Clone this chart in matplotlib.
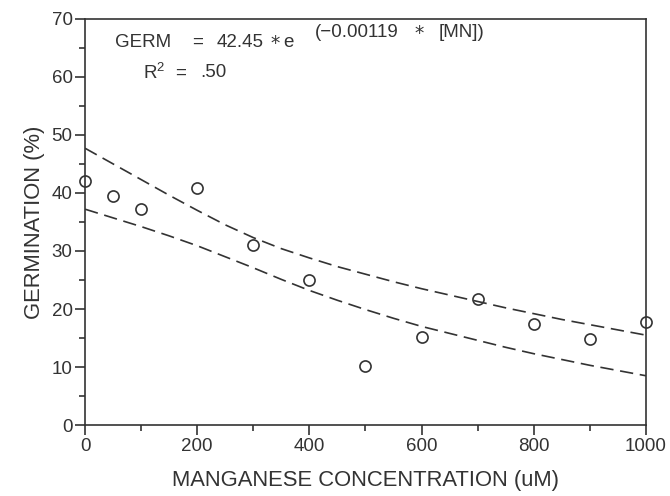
import matplotlib
matplotlib.use('Agg')
import matplotlib.pyplot as plt
from matplotlib.ticker import MultipleLocator

# data
mn_conc = [0, 50, 100, 200, 300, 400, 500, 600, 700, 800, 900, 1000]
germination = [42.0, 39.5, 37.2, 40.9, 31.0, 25.0, 10.1, 15.2, 21.7, 17.5, 14.8, 17.7]

# dashed band, read every 50 uM
band_x = [0, 50, 100, 150, 200, 250, 300, 350, 400, 450, 500,
          550, 600, 650, 700, 750, 800, 850, 900, 950, 1000]
band_upper = [47.7, 45.0, 42.3, 39.6, 37.0, 34.5, 32.3, 30.4, 28.8, 27.3, 26.0,
              24.7, 23.5, 22.4, 21.3, 20.2, 19.2, 18.2, 17.3, 16.4, 15.5]
band_lower = [37.2, 35.7, 34.2, 32.6, 30.9, 29.0, 27.1, 25.1, 23.2, 21.5, 19.9,
              18.4, 17.0, 15.8, 14.6, 13.4, 12.3, 11.3, 10.3, 9.4, 8.5]

plt.rcParams['font.family'] = ['Liberation Sans', 'DejaVu Sans']
INK = '#333333'

fig = plt.figure(figsize=(6.7, 4.96), dpi=100)
ax = fig.add_axes([0.127, 0.143, 0.837, 0.819])

ax.plot(band_x, band_upper, color=INK, lw=1.2, dashes=(8, 4))
ax.plot(band_x, band_lower, color=INK, lw=1.2, dashes=(8, 4))
ax.plot(mn_conc, germination, 'o', ms=8, mfc='none', mec=INK, mew=1.2,
        clip_on=False)

ax.set_xlim(0, 1000)
ax.set_ylim(0, 70)
ax.xaxis.set_major_locator(MultipleLocator(200))
ax.xaxis.set_minor_locator(MultipleLocator(100))
ax.yaxis.set_major_locator(MultipleLocator(10))
ax.yaxis.set_minor_locator(MultipleLocator(5))
ax.tick_params(which='major', direction='out', length=7, width=1.2,
               labelsize=13.5, colors=INK, pad=2)
ax.tick_params(which='minor', direction='out', length=4, width=1.2,
               colors=INK)
for s in ax.spines.values():
    s.set_color(INK)
    s.set_linewidth(1.2)

ax.set_xlabel('MANGANESE CONCENTRATION (uM)', fontsize=15.8, color=INK,
              labelpad=11)
ax.set_ylabel('GERMINATION (%)', fontsize=15.8, color=INK, labelpad=5)

# equation, placed piece by piece (the plotter font is wider than ours)
eq = dict(fontsize=13.5, color=INK, va='center', ha='left')
ax.text(53, 65.9, 'GERM', **eq)
ax.text(191, 65.9, '=', **eq)
ax.text(235, 65.9, '42.45', **eq)
ax.text(330, 65.9, '$*$', **eq)
ax.text(353, 65.9, 'e', **eq)
ax.text(410, 67.7, '(\u22120.00119', **eq)
ax.text(587, 67.7, '$*$', **eq)
ax.text(630, 67.7, '[MN])', **eq)
ax.text(103, 60.7, 'R$^\\mathregular{2}$', **eq)
ax.text(160, 60.7, '=', **eq)
ax.text(205, 60.7, '.50', **eq)

fig.savefig('out.png', dpi=100)
